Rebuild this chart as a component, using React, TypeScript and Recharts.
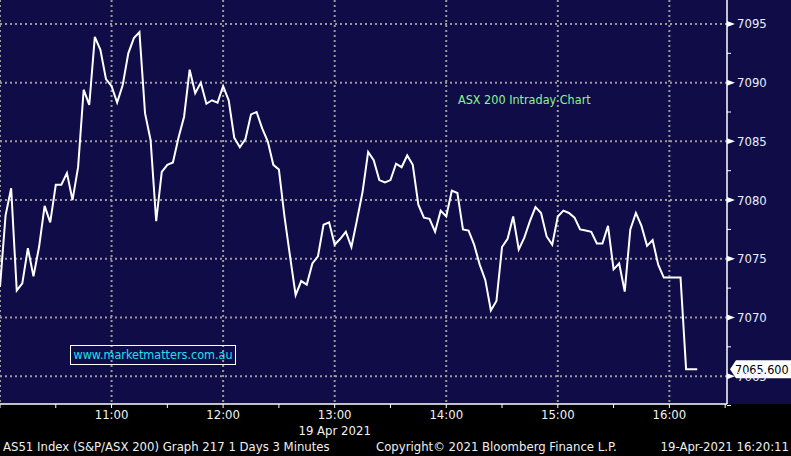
import React from 'react';
import { LineChart, Line, XAxis, YAxis, CartesianGrid, ReferenceLine } from 'recharts';

// Minutes after 10:00, one bar every 3 minutes
const barMinutes = 3;
const priceValues = [
  7072.6, 7078.7, 7081.0, 7072.3, 7072.9, 7075.9, 7073.5, 7076.0, 7079.5, 7078.1,
  7081.3, 7081.3, 7082.3, 7080.0, 7082.8, 7089.4, 7088.1, 7093.9, 7092.8, 7090.3,
  7089.7, 7088.3, 7089.8, 7092.5, 7093.8, 7094.3, 7087.4, 7085.1, 7078.2, 7082.4,
  7083.0, 7083.2, 7085.3, 7087.1, 7091.1, 7089.1, 7090.0, 7088.2, 7088.5, 7088.3,
  7089.7, 7088.5, 7085.3, 7084.5, 7085.2, 7087.3, 7087.5, 7086.1, 7085.0, 7083.0,
  7082.6, 7078.6, 7075.2, 7071.9, 7073.1, 7072.8, 7074.6, 7075.2, 7077.9, 7078.1,
  7076.2, 7076.7, 7077.3, 7076.0, 7078.3, 7080.7, 7084.1, 7083.4, 7081.7, 7081.5,
  7081.7, 7083.1, 7082.8, 7083.8, 7083.0, 7079.6, 7078.5, 7078.4, 7077.3, 7079.1,
  7078.6, 7080.8, 7080.6, 7077.5, 7077.4, 7076.2, 7074.5, 7073.2, 7070.6, 7071.4,
  7076.0, 7076.7, 7078.6, 7075.8, 7076.8, 7078.2, 7079.4, 7078.9, 7076.9, 7076.2,
  7078.6, 7079.1, 7078.9, 7078.5, 7077.5, 7077.4, 7077.3, 7076.3, 7076.3, 7077.8,
  7074.1, 7074.6, 7072.2, 7077.5, 7078.9, 7077.8, 7076.1, 7076.6, 7074.5, 7073.4,
  7073.4, 7073.4, 7073.4, 7065.6, 7065.6, 7065.6,
];
const lastValue = 7065.6;
const lastValueLabel = '7065.600';

const xTicks = [0, 30, 60, 90, 120, 150, 180, 210, 240, 270, 300, 330, 360, 390];
const xGrid = [0, 60, 120, 180, 240, 300, 360];
const hourLabels: Record<number, string> = {
  60: '11:00', 120: '12:00', 180: '13:00', 240: '14:00', 300: '15:00', 360: '16:00',
};
const dateLabel = '19 Apr 2021';
const dateTick = 180;

const yTicks = [7062.5, 7065, 7067.5, 7070, 7072.5, 7075, 7077.5, 7080, 7082.5, 7085, 7087.5, 7090, 7092.5, 7095];
const yGrid = [7065, 7070, 7075, 7080, 7085, 7090, 7095];
const yDomain: [number, number] = [7062.63, 7097.04];
const xDomain: [number, number] = [0, 391];

const footerLeft = 'AS51 Index (S&P/ASX 200) Graph 217 1 Days 3 Minutes';
const footerMid = 'Copyright\u00A9 2021 Bloomberg Finance L.P.';
const footerRight = '19-Apr-2021 16:20:11';
const chartTitle = 'ASX 200 Intraday Chart';
const watermark = 'www.marketmatters.com.au';

const data = priceValues.map((v, i) => ({ t: i * barMinutes, price: v }));

const FONT = "'DejaVu Sans Condensed', 'DejaVu Sans', sans-serif";

const XTick = (props: any) => {
  const { x, y, payload } = props;
  const label = hourLabels[payload.value];
  return (
    <g>
      {label && (
        <text x={x} y={y + 9} textAnchor="middle" fill="#f2f2f2" fontSize={13} fontFamily={FONT}>
          {label}
        </text>
      )}
      {payload.value === dateTick && (
        <text x={x} y={y + 25} textAnchor="middle" fill="#f2f2f2" fontSize={13} fontFamily={FONT}>
          {dateLabel}
        </text>
      )}
    </g>
  );
};

const YTick = (props: any) => {
  const { x, y, payload } = props;
  const v = payload.value;
  const major = Math.abs(v / 5 - Math.round(v / 5)) < 1e-6;
  const ax = x - 10;
  if (!major) {
    return <line x1={ax} x2={ax + 4} y1={y} y2={y} stroke="#ffffff" strokeWidth={1} />;
  }
  return (
    <g>
      <polygon points={`${ax},${y - 3} ${ax + 8},${y} ${ax},${y + 3}`} fill="#ffffff" />
      <text x={x} y={y + 4.5} textAnchor="start" fill="#e8eeff" fontSize={13} fontFamily={FONT}>
        {v}
      </text>
    </g>
  );
};

const LastLabel = (props: any) => {
  const vb = props.viewBox || {};
  const x0 = (vb.x || 0) + (vb.width || 0) + 3;
  const y = vb.y || 0;
  return (
    <g>
      <polygon
        points={`${x0},${y} ${x0 + 6},${y - 9} ${x0 + 62},${y - 9} ${x0 + 62},${y + 9} ${x0 + 6},${y + 9}`}
        fill="#ffffff"
      />
      <text x={x0 + 5} y={y + 4.5} fill="#000000" fontSize={12.5} fontFamily={FONT}>
        {lastValueLabel}
      </text>
    </g>
  );
};

export default function App() {
  return (
    <div style={{ position: 'fixed', left: 0, top: 0, width: 791, height: 456, background: '#000000', overflow: 'hidden' }}>
      <div style={{ position: 'absolute', left: 0, top: 0, width: 791, height: 404, background: '#0f0c47' }} />
      <div style={{ position: 'absolute', left: 0, top: 0 }}>
        <LineChart width={791} height={456} data={data} margin={{ top: 0, right: 0, bottom: 0, left: 0 }}>
          <CartesianGrid
            horizontalValues={yGrid}
            verticalValues={xGrid}
            stroke="#9a9a9a"
            strokeDasharray="2 3"
            strokeWidth={2}
          />
          <XAxis
            dataKey="t"
            type="number"
            domain={xDomain}
            ticks={xTicks}
            allowDataOverflow
            axisLine={{ stroke: '#ffffff', strokeWidth: 1.5 }}
            tickLine={{ stroke: '#ffffff' }}
            tickSize={4}
            tickMargin={2}
            tick={<XTick />}
            height={52}
            interval={0}
          />
          <YAxis
            orientation="right"
            type="number"
            domain={yDomain}
            ticks={yTicks}
            allowDataOverflow
            axisLine={{ stroke: '#ffffff', strokeWidth: 1.5 }}
            tickLine={false}
            tickSize={8}
            tickMargin={2}
            tick={<YTick />}
            width={64}
            interval={0}
          />
          <Line
            type="linear"
            dataKey="price"
            stroke="#ffffff"
            strokeWidth={2}
            dot={false}
            activeDot={false}
            isAnimationActive={false}
          />
          <ReferenceLine y={lastValue} stroke="none" ifOverflow="visible" label={(p: any) => <LastLabel {...p} />} />
        </LineChart>
      </div>
      <div style={{ position: 'absolute', left: 458, top: 92, color: '#8cf58c', fontSize: 12.5, fontFamily: FONT, whiteSpace: 'nowrap' }}>
        {chartTitle}
      </div>
      <div
        style={{
          position: 'absolute', left: 70, top: 345, width: 164, height: 18, border: '1px solid #ffffff',
          color: '#1ee0f0', fontSize: 12.5, fontFamily: FONT, lineHeight: '18px', textAlign: 'center', whiteSpace: 'nowrap',
        }}
      >
        {watermark}
      </div>
      <div style={{ position: 'absolute', left: 3, top: 439, color: '#f0f0f0', fontSize: 13, fontFamily: FONT, whiteSpace: 'nowrap' }}>
        {footerLeft}
      </div>
      <div style={{ position: 'absolute', left: 376, top: 439, color: '#f0f0f0', fontSize: 13, fontFamily: FONT, whiteSpace: 'nowrap' }}>
        {footerMid}
      </div>
      <div style={{ position: 'absolute', right: 2, top: 439, color: '#f0f0f0', fontSize: 13, fontFamily: FONT, whiteSpace: 'nowrap' }}>
        {footerRight}
      </div>
    </div>
  );
}
